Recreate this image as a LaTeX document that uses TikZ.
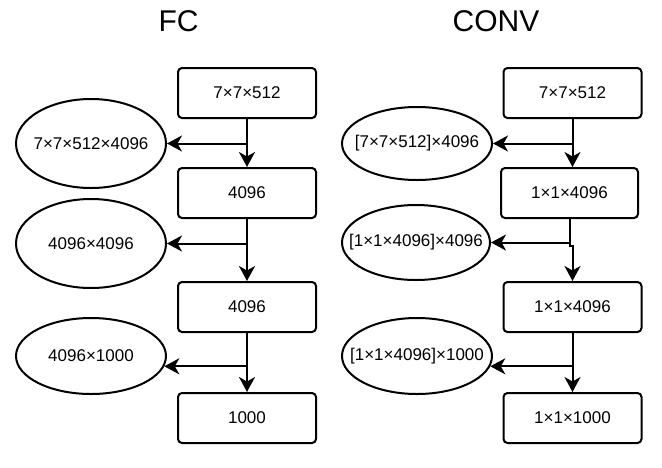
\documentclass[tikz,border=0pt]{standalone}
\usepackage{fontspec}
\setmainfont{Liberation Sans}
\usetikzlibrary{shapes.geometric,arrows.meta,calc}
\begin{document}
\begin{tikzpicture}[x=1pt,y=-1pt,
  lw/.style={line width=2pt},
  box/.style={lw,draw,rounded corners=4pt,minimum width=138pt,minimum height=50pt,inner sep=0pt,font=\fontsize{17pt}{20pt}\selectfont},
  ell/.style={lw,draw,ellipse,minimum width=150pt,inner xsep=-30pt,inner ysep=0pt,font=\fontsize{17pt}{20pt}\selectfont},
  ttl/.style={anchor=base,inner sep=0pt,font=\fontsize{30pt}{36pt}\selectfont},
  arr/.style={lw,-{Stealth[length=15pt,width=16pt,inset=4.5pt]}}]
\useasboundingbox (0,0) rectangle (662,467);
% titles
\node[ttl] (tfc) at (178.5,31) {FC};
\node[ttl] (tconv) at (496,31) {CONV};
% FC column
\node[box] (a1) at (247,93) {7×7×512};
\node[box] (a2) at (247,193) {4096};
\node[box] (a3) at (247,307) {4096};
\node[box] (a4) at (247,418) {1000};
\node[ell,minimum height=89pt] (ea1) at (91,143.5) {7×7×512×4096};
\node[ell,minimum height=89pt] (ea2) at (91,243.5) {4096×4096};
\node[ell,minimum height=76pt] (ea3) at (91,356) {4096×1000};
\draw[arr] (a1.south) -- (a2.north);
\draw[arr] (a2.south) -- (a3.north);
\draw[arr] (a3.south) -- (a4.north);
\draw[arr] (a1.south |- ea1.east) -- (ea1.east);
\draw[arr] (a2.south |- ea2.east) -- (ea2.east);
\draw[arr] (a3.south |- ea3.-8) -- (ea3.-8);
% CONV column
\node[box] (b1) at (572.5,93) {7×7×512};
\node[box,minimum width=137pt] (b2) at (569.5,193) {1×1×4096};
\node[box] (b3) at (572.5,307) {1×1×4096};
\node[box] (b4) at (572.5,418) {1×1×1000};
\node[ell,minimum height=73pt] (eb1) at (417,143.5) {[7×7×512]×4096};
\node[ell,minimum width=148pt,minimum height=75pt] (eb2) at (416,242.5) {[1×1×4096]×4096};
\node[ell,minimum height=76pt] (eb3) at (417,356) {[1×1×4096]×1000};
\draw[arr] (b1.south) -- (b1.south |- b2.north);
\draw[arr] (b2.south) -- ++(0,27) -| (b3.north);
\draw[arr] (b3.south) -- (b4.north);
\draw[arr] (b1.south |- eb1.east) -- (eb1.east);
\draw[arr] (b2.south |- eb2.east) -- (eb2.east);
\draw[arr] (b3.south |- eb3.-8) -- (eb3.-8);
\end{tikzpicture}
\end{document}
